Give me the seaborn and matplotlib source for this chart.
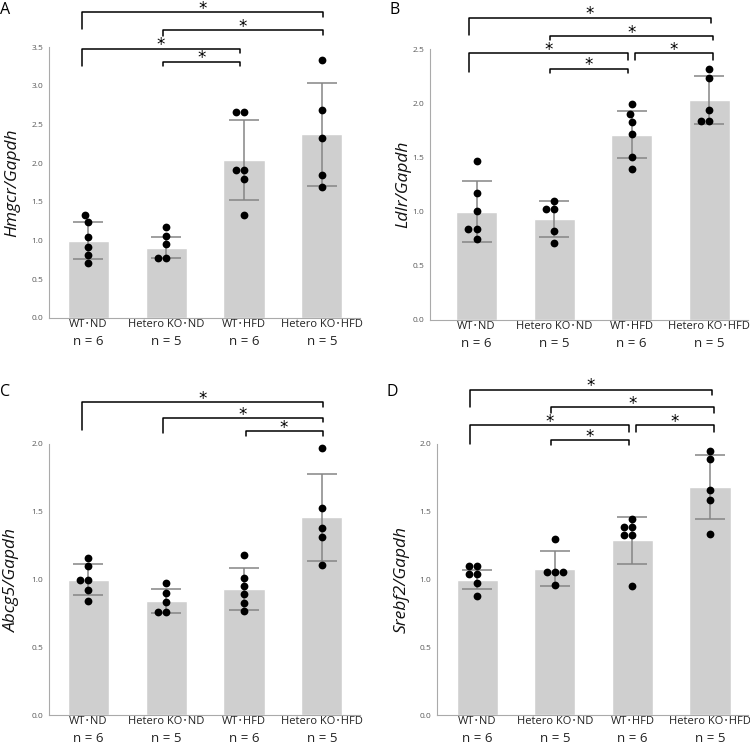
import numpy as np
import pandas as pd
import matplotlib
matplotlib.use("Agg")
import matplotlib.pyplot as plt
import seaborn as sns

groups = ["WT･ND", "Hetero KO･ND", "WT･HFD", "Hetero KO･HFD"]
n_labels = ["n = 6", "n = 5", "n = 6", "n = 5"]

# panel A - Hmgcr
hmgcr_mean = [1.00, 0.91, 2.04, 2.37]
hmgcr_sd = [0.24, 0.135, 0.52, 0.66]
hmgcr_pts = [[1.33, 1.24, 1.05, 0.92, 0.81, 0.71],
             [1.17, 1.06, 0.95, 0.78, 0.78],
             [2.66, 2.66, 1.91, 1.91, 1.79, 1.33],
             [3.33, 2.68, 2.33, 1.85, 1.69]]

# panel B - Ldlr
ldlr_mean = [1.00, 0.935, 1.71, 2.03]
ldlr_sd = [0.28, 0.165, 0.22, 0.225]
ldlr_pts = [[1.47, 1.17, 1.01, 0.84, 0.84, 0.75],
            [1.10, 1.02, 1.02, 0.82, 0.71],
            [1.99, 1.90, 1.83, 1.72, 1.50, 1.39],
            [2.32, 2.23, 1.94, 1.84, 1.84]]

# panel C - Abcg5
abcg5_mean = [1.00, 0.84, 0.93, 1.46]
abcg5_sd = [0.112, 0.089, 0.154, 0.32]
abcg5_pts = [[1.16, 1.10, 0.995, 0.995, 0.92, 0.84],
             [0.975, 0.90, 0.835, 0.757, 0.757],
             [1.18, 1.01, 0.95, 0.89, 0.83, 0.77],
             [1.97, 1.53, 1.38, 1.31, 1.11]]

# panel D - Srebf2
srebf2_mean = [1.00, 1.08, 1.29, 1.68]
srebf2_sd = [0.073, 0.128, 0.174, 0.237]
srebf2_pts = [[1.10, 1.10, 1.04, 1.04, 0.975, 0.88],
              [1.30, 1.055, 1.055, 1.055, 0.96],
              [1.45, 1.39, 1.39, 1.33, 1.33, 0.955],
              [1.95, 1.89, 1.66, 1.59, 1.335]]

# significance brackets: (x1, x2, y, left end, right end)
hmgcr_sig = [(-0.08, 3.01, 3.95, 3.73, 3.89), (0.96, 3.01, 3.72, 3.64, 3.66),
             (-0.08, 1.95, 3.48, 3.25, 3.42), (0.96, 1.95, 3.31, 3.25, 3.25)]
ldlr_sig = [(-0.095, 3.02, 2.79, 2.63, 2.74), (0.953, 3.05, 2.62, 2.58, 2.58),
            (-0.095, 1.95, 2.46, 2.29, 2.40), (0.953, 1.95, 2.32, 2.28, 2.28),
            (2.04, 3.05, 2.46, 2.40, 2.40)]
abcg5_sig = [(-0.085, 3.01, 2.31, 2.10, 2.27), (0.955, 3.01, 2.19, 2.08, 2.16),
             (2.02, 3.01, 2.096, 2.06, 2.06)]
srebf2_sig = [(-0.095, 3.02, 2.40, 2.27, 2.36), (0.953, 3.05, 2.27, 2.23, 2.23),
              (-0.095, 1.95, 2.14, 2.00, 2.09), (0.953, 1.95, 2.03, 1.995, 1.995),
              (2.04, 3.05, 2.14, 2.09, 2.09)]

sns.set_style("white")
plt.rcParams['font.family'] = ['Open Sans', 'Noto Sans CJK JP', 'DejaVu Sans']

W, H = 750, 744
fig = plt.figure(figsize=(7.5, 7.44), dpi=100)

panels = [
    ("A", "Hmgcr/Gapdh", hmgcr_mean, hmgcr_sd, hmgcr_pts, hmgcr_sig, 3.5,
     (49, 47, 311, 271), (-0.505, 3.49), 0.119, (0, 2)),
    ("B", "Ldlr/Gapdh", ldlr_mean, ldlr_sd, ldlr_pts, ldlr_sig, 2.5,
     (430, 49, 318, 271), (-0.6, 3.5), 0.085, (389, 2)),
    ("C", "Abcg5/Gapdh", abcg5_mean, abcg5_sd, abcg5_pts, abcg5_sig, 2.0,
     (49, 444, 311, 271), (-0.505, 3.49), 0.119, (0, 384)),
    ("D", "Srebf2/Gapdh", srebf2_mean, srebf2_sd, srebf2_pts, srebf2_sig, 2.0,
     (437, 444, 311, 271), (-0.52, 3.49), 0.113, (387, 384)),
]

for letter, ylab, means, sds, pts, sig, ymax, rect, xlim, labx, lpos in panels:
    l, t, w, h = rect
    ax = fig.add_axes([l / W, (H - t - h) / H, w / W, h / H])

    sns.barplot(x=groups, y=means, order=groups, color="#cfcfcf", width=0.53,
                saturation=1, errorbar=None, ax=ax, zorder=1)
    ax.errorbar(x=np.arange(len(groups)), y=means, yerr=sds, fmt="none",
                ecolor="#858585", elinewidth=1.1, capsize=11, capthick=1.1, zorder=2)

    df = pd.DataFrame({"group": [g for g, p in zip(groups, pts) for _ in p],
                       "value": [v for p in pts for v in p]})
    sns.swarmplot(data=df, x="group", y="value", order=groups, color="black",
                  size=5.6, linewidth=0, ax=ax, zorder=3)

    ax.set_xlim(*xlim)
    ax.set_ylim(0, ymax)
    ax.set_yticks(np.arange(0, ymax + 0.01, 0.5))
    ax.set_yticks(np.arange(0, ymax + 0.01, 0.25), minor=True)
    ax.set_xlabel("")
    ax.set_ylabel(ylab, fontsize=12.5, style="italic", color="#111111")
    ax.yaxis.label.set_va("center")
    ax.yaxis.set_label_coords(-labx, 0.5)

    sns.despine(ax=ax)
    for s in ["left", "bottom"]:
        ax.spines[s].set_color("#aaaaaa")
        ax.spines[s].set_linewidth(0.8)
    ax.tick_params(axis="y", which="major", length=2.5, width=0.6, color="#999999",
                   labelsize=6, labelcolor="#5a5a5a", pad=1.5)
    ax.tick_params(axis="y", which="minor", length=1.5, width=0.5, color="#999999")
    ax.tick_params(axis="x", length=0, labelsize=8, labelcolor="#222222", pad=1)

    for i, nl in enumerate(n_labels):
        ax.annotate(nl, xy=(i, 0), xycoords=("data", "axes fraction"),
                    xytext=(0, -17), textcoords="offset points",
                    ha="center", va="center", fontsize=9.5, color="#222222")

    for x1, x2, y, yl, yr in sig:
        ax.plot([x1, x1, x2, x2], [yl, y, y, yr], color="black", lw=1.1,
                clip_on=False, zorder=4)
        ax.annotate("*", xy=((x1 + x2) / 2, y), xytext=(0, 2.4),
                    textcoords="offset points", ha="center", va="center",
                    fontsize=12, color="black", family="DejaVu Sans",
                    annotation_clip=False)

    fig.text(lpos[0] / W, 1 - lpos[1] / H, letter, ha="left", va="top",
             fontsize=11.5, color="black")

fig.savefig("out.png", dpi=100)
